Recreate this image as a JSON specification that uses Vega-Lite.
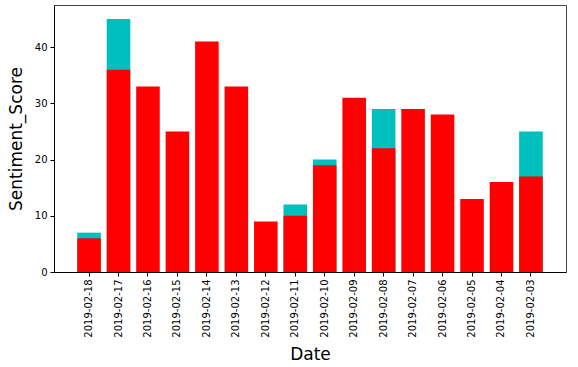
{
  "$schema": "https://vega.github.io/schema/vega-lite/v6.json",
  "autosize": "none",
  "width": 512,
  "height": 267,
  "padding": {"left": 54, "top": 5, "right": 12, "bottom": 95},
  "background": "white",
  "config": {
    "font": "DejaVu Sans",
    "view": {"stroke": "#444", "strokeWidth": 1},
    "axis": {"grid": false, "domainColor": "#000", "tickColor": "#000", "labelColor": "#000", "titleColor": "#000", "labelFontSize": 10, "titleFontSize": 17, "titleFontWeight": "normal", "tickSize": 4, "labelPadding": 3}
  },
  "data": {
    "values": [
      {"Date": "2019-02-18", "red": 6, "cyan": 7},
      {"Date": "2019-02-17", "red": 36, "cyan": 45},
      {"Date": "2019-02-16", "red": 33},
      {"Date": "2019-02-15", "red": 25},
      {"Date": "2019-02-14", "red": 41},
      {"Date": "2019-02-13", "red": 33},
      {"Date": "2019-02-12", "red": 9},
      {"Date": "2019-02-11", "red": 10, "cyan": 12},
      {"Date": "2019-02-10", "red": 19, "cyan": 20},
      {"Date": "2019-02-09", "red": 31},
      {"Date": "2019-02-08", "red": 22, "cyan": 29},
      {"Date": "2019-02-07", "red": 29},
      {"Date": "2019-02-06", "red": 28},
      {"Date": "2019-02-05", "red": 13},
      {"Date": "2019-02-04", "red": 16},
      {"Date": "2019-02-03", "red": 17, "cyan": 25}
    ]
  },
  "encoding": {
    "x": {
      "field": "Date", "type": "nominal", "sort": null,
      "scale": {"paddingInner": 0.2, "paddingOuter": 0.79,
        "domain": ["2019-02-18", "2019-02-17", "2019-02-16", "2019-02-15", "2019-02-14", "2019-02-13", "2019-02-12", "2019-02-11", "2019-02-10", "2019-02-09", "2019-02-08", "2019-02-07", "2019-02-06", "2019-02-05", "2019-02-04", "2019-02-03"]},
      "axis": {"title": "Date", "labelAngle": -90, "titlePadding": 9}
    }
  },
  "layer": [
    {
      "mark": {"type": "bar", "color": "#00bfbf"},
      "encoding": {
        "y": {"field": "cyan", "type": "quantitative", "scale": {"domain": [0, 47.5], "nice": false},
          "axis": {"title": "Sentiment_Score", "values": [0, 10, 20, 30, 40], "titlePadding": 9}}
      }
    },
    {
      "mark": {"type": "bar", "color": "#ff0000"},
      "encoding": {
        "y": {"field": "red", "type": "quantitative"}
      }
    }
  ]
}
